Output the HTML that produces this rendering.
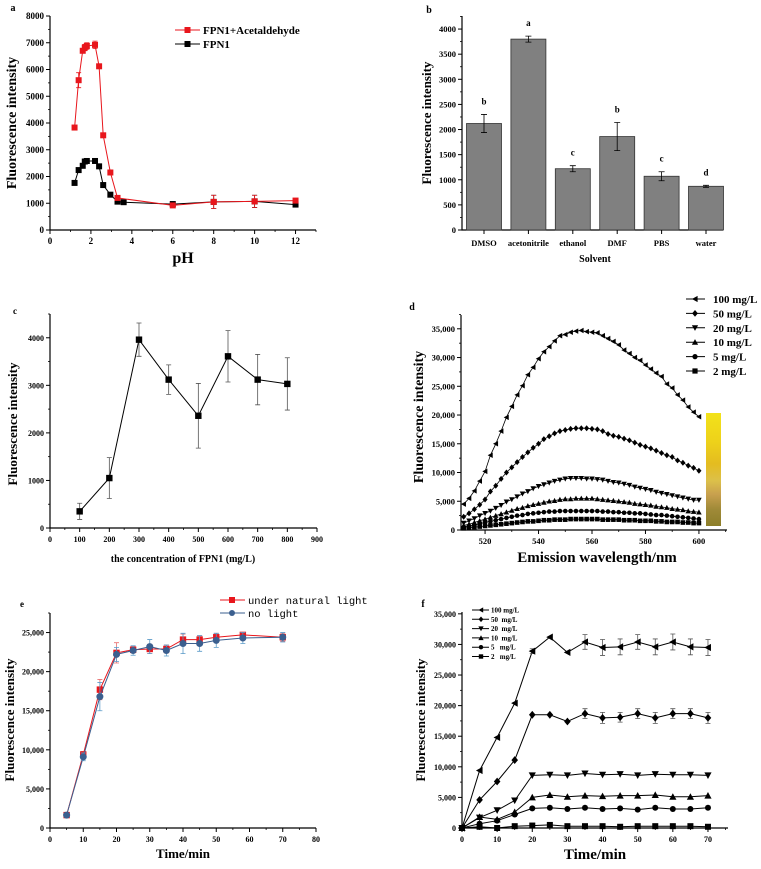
<!DOCTYPE html>
<html><head><meta charset="utf-8">
<style>
html,body{margin:0;padding:0;background:#fff;}
svg{display:block;font-family:"Liberation Serif",serif;font-weight:bold;}
</style></head>
<body>
<svg id="fig" width="761" height="869" viewBox="0 0 761 869" xmlns="http://www.w3.org/2000/svg"></svg>
<script>
// ---------- Panel a data ----------
const aRedX=[1.2,1.4,1.6,1.7,1.8,2.2,2.4,2.6,2.95,3.3,6,8,10,12];
const aRedY=[3830,5600,6700,6820,6880,6920,6120,3540,2150,1200,920,1050,1070,1100];
const aRedErr=[0,280,80,120,120,140,80,0,0,0,0,250,230,0];
const aBlkX=[1.2,1.4,1.6,1.7,1.8,2.2,2.4,2.6,2.95,3.3,3.6,6,8,10,12];
const aBlkY=[1760,2240,2400,2560,2580,2580,2380,1680,1320,1060,1040,970,1050,1070,950];
// ---------- Panel b data ----------
const bCats=["DMSO","acetonitrile","ethanol","DMF","PBS","water"];
const bVals=[2120,3800,1220,1860,1070,870];
const bErr=[180,60,60,280,90,20];
const bLetters=["b","a","c","b","c","d"];
// ---------- Panel c data ----------
const cX=[100,200,300,400,500,600,700,800];
const cY=[350,1050,3960,3120,2360,3610,3120,3030];
const cErr=[170,430,350,310,680,540,530,550];
// ---------- Panel d data ----------
const dWl=[512,514,516,518,520,522,524,526,528,530,532,534,536,538,540,542,544,546,548,550,552,554,556,558,560,562,564,566,568,570,572,574,576,578,580,582,584,586,588,590,592,594,596,598,600];
const d100=[4500,5500,6800,8500,10200,13000,15000,17200,19600,21500,23500,25100,27000,28300,29800,31000,31900,32900,33800,34000,34400,34600,34700,34500,34400,34300,33800,33300,32800,32200,31300,30700,30000,29500,28700,28000,27300,26700,25400,24700,23500,22600,21400,20500,19700];
const d50=[2300,2900,3600,4400,5300,6700,7700,8900,10000,10900,11800,12700,13500,14300,15000,15800,16300,16800,17200,17400,17600,17700,17700,17700,17600,17500,17200,16700,16400,16200,15900,15600,15200,14800,14500,14200,13800,13400,13000,12700,12100,11700,11200,10800,10300];
const d20=[1200,1600,2000,2500,2900,3300,3800,4300,4900,5300,5800,6300,6700,7200,7600,7900,8200,8500,8700,8900,9000,9000,9000,8900,8900,8800,8700,8500,8300,8200,8000,7800,7500,7300,7100,6900,6600,6400,6200,6000,5800,5600,5400,5200,5200];
const d10=[800,1000,1300,1600,1900,2200,2500,2800,3100,3400,3700,3900,4200,4400,4600,4800,5000,5100,5300,5400,5400,5500,5500,5500,5500,5400,5300,5200,5100,5000,4900,4800,4600,4500,4400,4300,4100,4000,3900,3700,3600,3500,3300,3200,3100];
const d5=[500,700,900,1100,1300,1500,1700,1900,2100,2300,2500,2600,2800,2900,3000,3100,3200,3200,3300,3300,3300,3300,3300,3300,3300,3300,3200,3200,3100,3100,3000,3000,2900,2900,2800,2700,2600,2600,2500,2400,2300,2200,2100,2000,1900];
const d2=[300,400,500,600,700,800,900,1000,1100,1200,1300,1400,1500,1500,1600,1700,1700,1800,1800,1800,1900,1900,1900,1900,1900,1900,1800,1800,1800,1800,1700,1700,1700,1600,1600,1600,1500,1500,1400,1400,1400,1300,1300,1200,1200];
const dLabels=["100 mg/L","50 mg/L","20 mg/L","10 mg/L","5 mg/L","2 mg/L"];
// ---------- Panel e data ----------
const eRedX=[5,10,15,20,25,30,35,40,45,50,58,70];
const eRedY=[1650,9400,17700,22400,22800,22900,22900,24100,24100,24400,24700,24400];
const eRedErr=[0,400,1300,1300,400,600,500,700,500,500,300,500];
const eBluX=[5,10,15,20,25,30,35,40,45,50,58,70];
const eBluY=[1650,9100,16800,22200,22700,23200,22700,23600,23600,24000,24300,24400];
const eBluErr=[0,500,1800,900,600,900,700,1300,1000,900,700,600];
// ---------- Panel f data ----------
const fT=[0,5,10,15,20,25,30,35,40,45,50,55,60,65,70];
const f100=[0,9400,14800,20400,28900,31200,28700,30400,29500,29600,30400,29600,30400,29600,29500];
const f50=[0,4600,7600,11100,18500,18500,17400,18700,18000,18100,18700,18000,18700,18700,18000];
const f20=[0,1700,2900,4500,8600,8700,8600,8900,8700,8800,8600,8800,8700,8700,8600];
const f10=[0,1800,1400,2600,5000,5400,5100,5300,5200,5300,5300,5400,5100,5100,5300];
const f5=[0,700,1200,2200,3200,3300,3100,3300,3100,3200,3000,3300,3100,3100,3300];
const f2=[0,200,0,300,400,500,300,300,300,200,300,300,300,300,200];
const fErr100=[0,0,0,0,400,0,0,1200,1300,1300,1200,1300,1300,1300,1300];
const fErr50=[0,0,0,0,0,0,0,800,900,800,800,900,800,800,900];
const fLabels=["100 mg/L","50  mg/L","20  mg/L","10  mg/L","5   mg/L","2   mg/L"];

const NS="http://www.w3.org/2000/svg";
const svg=document.getElementById('fig');
function mk(tag,attrs,parent){const e=document.createElementNS(NS,tag);for(const k in attrs)e.setAttribute(k,attrs[k]);(parent||svg).appendChild(e);return e;}
function txt(s,attrs,parent){const e=mk('text',attrs,parent);e.textContent=s;return e;}
function fmt(v){return v>=1000&&v%1000===0&&v>=5000?v.toLocaleString('en-US'):String(v);}

function axes(g,c){
  const sx=v=>c.px0+(v-c.xmin)/(c.xmax-c.xmin)*(c.px1-c.px0);
  const sy=v=>c.py0-(v-c.ymin)/(c.ymax-c.ymin)*(c.py0-c.py1);
  const ax=mk('path',{d:`M${c.px0},${c.py1}V${c.py0}H${c.px1}`,stroke:'#000','stroke-width':1.2,fill:'none'},g);
  
  
  (c.yticks||[]).forEach(v=>{
    const y=sy(v);
    mk('line',{x1:c.px0-4,x2:c.px0,y1:y,y2:y,stroke:'#000','stroke-width':1},g);
    const t=txt(c.yfmt?c.yfmt(v):String(v),{x:c.px0-6,y:y+3,'font-size':c.fs||9,'text-anchor':'end'},g);
    
    
  });
  (c.yminor||[]).forEach(v=>{const y=sy(v);mk('line',{x1:c.px0-2,x2:c.px0,y1:y,y2:y,stroke:'#000','stroke-width':0.8},g);});
  (c.xticks||[]).forEach(v=>{
    const x=sx(v);
    mk('line',{x1:x,x2:x,y1:c.py0,y2:c.py0+4,stroke:'#000','stroke-width':1},g);
    const t=txt(String(v),{x:x,y:c.py0+14,'font-size':c.fs||9,'text-anchor':'middle'},g);
    
    
  });
  (c.xminor||[]).forEach(v=>{const x=sx(v);mk('line',{x1:x,x2:x,y1:c.py0,y2:c.py0+2,stroke:'#000','stroke-width':0.8},g);});
  return {sx,sy};
}
function range(a,b,s){const r=[];for(let v=a;v<=b+1e-9;v+=s)r.push(v);return r;}
function marker(g,type,x,y,r,fill){
  let e;
  if(type==='sq')e=mk('rect',{x:x-r,y:y-r,width:2*r,height:2*r,fill:fill},g);
  else if(type==='ci')e=mk('circle',{cx:x,cy:y,r:r,fill:fill},g);
  else if(type==='di')e=mk('path',{d:`M${x},${y-r*1.3}L${x+r*1.1},${y}L${x},${y+r*1.3}L${x-r*1.1},${y}Z`,fill:fill},g);
  else if(type==='up')e=mk('path',{d:`M${x},${y-r*1.2}L${x+r*1.2},${y+r}L${x-r*1.2},${y+r}Z`,fill:fill},g);
  else if(type==='dn')e=mk('path',{d:`M${x},${y+r*1.2}L${x+r*1.2},${y-r}L${x-r*1.2},${y-r}Z`,fill:fill},g);
  else if(type==='lt')e=mk('path',{d:`M${x-r*1.2},${y}L${x+r},${y-r*1.2}L${x+r},${y+r*1.2}Z`,fill:fill},g);
  return e;
}
function series(g,name,xs,ys,sc,opt){
  const sg=mk('g',{},g);
  
  
  const pts=xs.map((x,i)=>`${sc.sx(x).toFixed(1)},${sc.sy(ys[i]).toFixed(1)}`).join(' ');
  mk('polyline',{points:pts,fill:'none',stroke:opt.color,'stroke-width':opt.lw||1},sg);
  if(opt.err){xs.forEach((x,i)=>{const e=opt.err[i];if(!e)return;const px=sc.sx(x),y1=sc.sy(ys[i]-e),y2=sc.sy(ys[i]+e);
    mk('path',{d:`M${px},${y1}V${y2}M${px-2.5},${y1}H${px+2.5}M${px-2.5},${y2}H${px+2.5}`,stroke:opt.ecolor||opt.color,'stroke-width':0.8,fill:'none'},sg);});}
  xs.forEach((x,i)=>{const m=marker(sg,opt.mk,sc.sx(x),sc.sy(ys[i]),opt.r||3,opt.color);
    
    });
  return sg;
}
function title(g,s,x,y,fs,rot,name){
  const t=txt(s,{x:x,y:y,'font-size':fs,'text-anchor':'middle',transform:rot?`rotate(-90 ${x} ${y})`:''},g);
  
  
  return t;
}

// ===== Panel a =====
const ga=mk('g',{});


const sa=axes(ga,{px0:50,px1:316,py0:230,py1:16,xmin:0,xmax:13,ymin:0,ymax:8000,xticks:range(0,12,2),xminor:range(1,13,2),yticks:range(0,8000,1000),yminor:range(500,7500,1000),fs:9});
series(ga,'series-fpn1',aBlkX,aBlkY,sa,{color:'#000',mk:'sq',r:3,err:[0,0,0,0,0,0,0,0,0,0,0,0,250,230,0]});
series(ga,'series-fpn1-acetaldehyde',aRedX,aRedY,sa,{color:'#e8161c',mk:'sq',r:3,err:aRedErr});
title(ga,'a',13,11,10,false,'panel-label-a');
title(ga,'Fluorescence intensity',16,123,14,true,'y-axis-title-a');
title(ga,'pH',183,263,16,false,'x-axis-title-a');
[['FPN1+Acetaldehyde','#e8161c',30],['FPN1','#000',44]].forEach(([s,c,y])=>{
  const lg=mk('g',{},ga);
  
  
  mk('line',{x1:175,x2:200,y1:y,y2:y,stroke:c,'stroke-width':1},lg);
  mk('rect',{x:184.5,y:y-3,width:6,height:6,fill:c},lg);
  txt(s,{x:203,y:y+4,'font-size':11},lg);
});

// ===== Panel b =====
const gb=mk('g',{});


const sb=axes(gb,{px0:462,px1:723,py0:230,py1:16,xmin:0,xmax:1,ymin:0,ymax:4260,yticks:range(0,4000,500),yminor:range(250,4250,500),yfmt:v=>String(v),fs:8.5});
const bw=44.4;
bCats.forEach((c,i)=>{
  const cx=484+i*bw, y=sb.sy(bVals[i]);
  const r=mk('rect',{x:cx-17.5,y:y,width:35,height:230-y,fill:'#808080',stroke:'#333','stroke-width':0.8},gb);
  
  
  const y1=sb.sy(bVals[i]-bErr[i]),y2=sb.sy(bVals[i]+bErr[i]);
  mk('path',{d:`M${cx},${y1}V${y2}M${cx-3},${y1}H${cx+3}M${cx-3},${y2}H${cx+3}`,stroke:'#000','stroke-width':0.8,fill:'none'},gb);
  mk('line',{x1:cx,x2:cx,y1:230,y2:234,stroke:'#000'},gb);
  const t=txt(c,{x:cx,y:246,'font-size':8.5,'text-anchor':'middle'},gb);
  
  
  const l=txt(bLetters[i],{x:cx,y:y2-10,'font-size':9,'text-anchor':'middle'},gb);
  
  
});
title(gb,'b',429,13,10,false,'panel-label-b');
title(gb,'Fluorescence intensity',431,123,13,true,'y-axis-title-b');
title(gb,'Solvent',595,262,10,false,'x-axis-title-b');

// ===== Panel c =====
const gc=mk('g',{});


const scc=axes(gc,{px0:50,px1:317,py0:528,py1:314,xmin:0,xmax:900,ymin:0,ymax:4500,xticks:range(0,900,100),xminor:range(50,850,100),yticks:range(0,4000,1000),yminor:range(500,4500,1000),fs:8});
series(gc,'series-concentration',cX,cY,scc,{color:'#000',mk:'sq',r:3.2,err:cErr,ecolor:'#555'});
title(gc,'c',15,314,9,false,'panel-label-c');
title(gc,'Fluorescence intensity',17,424,13,true,'y-axis-title-c');
title(gc,'the concentration of FPN1 (mg/L)',183,562,10,false,'x-axis-title-c');

// ===== Panel d =====
const gd=mk('g',{});


const sd=axes(gd,{px0:461,px1:727,py0:530,py1:315,xmin:511,xmax:610.5,ymin:0,ymax:37400,xticks:range(520,600,20),xminor:range(530,610,20),yticks:range(0,35000,5000),yminor:range(2500,37500,5000),yfmt:v=>v===0?'0':v.toLocaleString('en-US'),fs:8.5});
const dSeries=[[d100,'lt'],[d50,'di'],[d20,'dn'],[d10,'up'],[d5,'ci'],[d2,'sq']];
const grad=mk('linearGradient',{id:'cbar',x1:0,y1:0,x2:0,y2:1},mk('defs',{}));
[[0,'#f2e21a'],[0.25,'#eed21a'],[0.45,'#e4bc20'],[0.6,'#dcc04a'],[0.72,'#c8a04e'],[0.85,'#a08a38'],[1,'#8c7e2a']].forEach(([o,c])=>mk('stop',{offset:o,'stop-color':c},grad));
const cb=mk('rect',{x:706,y:413,width:15,height:113,fill:'url(#cbar)'},gd);


dSeries.forEach(([arr,m],i)=>{
  series(gd,'series-'+dLabels[i].replace(/[ \/]/g,'-'),dWl,arr,sd,{color:'#000',mk:m,r:2.3,lw:0.8});
  const y=299+i*14.4;
  const lg=mk('g',{},gd);
  
  
  mk('line',{x1:686,x2:705,y1:y,y2:y,stroke:'#000'},lg);
  marker(lg,m,695,y,2.6,'#000');
  txt(dLabels[i],{x:713,y:y+4,'font-size':11},lg);
});
title(gd,'d',412,310,10,false,'panel-label-d');
title(gd,'Fluorescence intensity',423,417,14,true,'y-axis-title-d');
title(gd,'Emission wavelength/nm',597,562,15,false,'x-axis-title-d');

// ===== Panel e =====
const ge=mk('g',{});


const se=axes(ge,{px0:50,px1:316,py0:828,py1:613,xmin:0,xmax:80,ymin:0,ymax:27500,xticks:range(0,80,10),xminor:range(5,75,10),yticks:range(0,25000,5000),yminor:range(2500,27500,5000),yfmt:v=>v===0?'0':v.toLocaleString('en-US'),fs:8});
series(ge,'series-under-natural-light',eRedX,eRedY,se,{color:'#e8161c',mk:'sq',r:3.2,err:eRedErr,ecolor:'#e87070'});
series(ge,'series-no-light',eBluX,eBluY,se,{color:'#3b5f8f',mk:'ci',r:3.5,err:eBluErr,ecolor:'#5a9ac8'});
title(ge,'e',22,607,9,false,'panel-label-e');
title(ge,'Fluorescence intensity',14,720,13,true,'y-axis-title-e');
title(ge,'Time/min',183,858,13,false,'x-axis-title-e');
[['under natural light','#e8161c','sq',600],['no light','#3b5f8f','ci',613]].forEach(([s,c,m,y])=>{
  const lg=mk('g',{},ge);
  
  
  mk('line',{x1:220,x2:245,y1:y,y2:y,stroke:c},lg);
  marker(lg,m,232,y,3,c);
  txt(s,{x:248,y:y+4,'font-size':10.5,'font-family':'Liberation Mono, monospace','font-weight':'normal'},lg);
});

// ===== Panel f =====
const gf=mk('g',{});


const sf=axes(gf,{px0:462,px1:728,py0:828,py1:612,xmin:0,xmax:75.7,ymin:0,ymax:35300,xticks:range(0,70,10),xminor:range(5,75,10),yticks:range(0,35000,5000),yminor:range(2500,32500,5000),yfmt:v=>v===0?'0':v.toLocaleString('en-US'),fs:8});
const fSeries=[[f100,'lt',fErr100],[f50,'di',fErr50],[f20,'dn',null],[f10,'up',null],[f5,'ci',null],[f2,'sq',null]];
fSeries.forEach(([arr,m,er],i)=>{
  series(gf,'series-f-'+fLabels[i].replace(/\s+/g,'-').replace('/','-'),fT,arr,sf,{color:'#000',mk:m,r:3,err:er,ecolor:'#555'});
  const y=610+i*9.3;
  const lg=mk('g',{},gf);
  
  
  mk('line',{x1:472,x2:489,y1:y,y2:y,stroke:'#000'},lg);
  marker(lg,m,481,y,2.2,'#000');
  txt(fLabels[i],{x:491,y:y+2.5,'font-size':7,'xml:space':'preserve',style:'white-space:pre'},lg);
});
title(gf,'f',423,607,10,false,'panel-label-f');
title(gf,'Fluorescence intensity',425,720,13,true,'y-axis-title-f');
title(gf,'Time/min',595,859,15,false,'x-axis-title-f');
</script>
</body></html>
